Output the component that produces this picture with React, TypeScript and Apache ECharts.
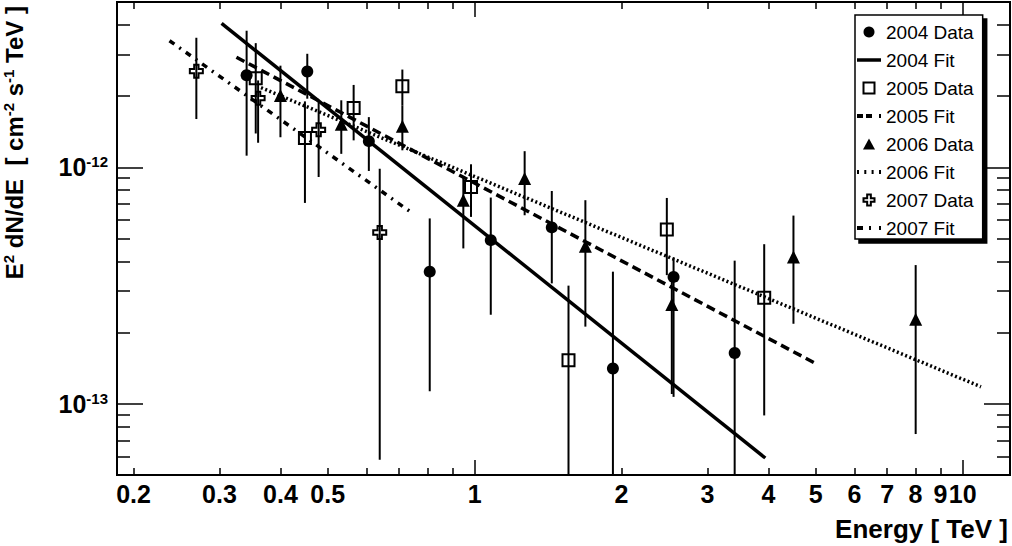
import React, { useEffect, useRef } from 'react';
import * as echarts from 'echarts';

// ---- axis ranges and ticks ----
const X_MIN = 0.185;
const X_MAX = 12.5;
const Y_MIN = 5e-14;
const Y_MAX = 5e-12;

const xMinorTicks = [0.2, 0.3, 0.4, 0.5, 0.6, 0.7, 0.8, 0.9, 2, 3, 4, 5, 6, 7, 8, 9];
const xMajorTicks = [1, 10];
const xLabelValues = [0.2, 0.3, 0.4, 0.5, 1, 2, 3, 4, 5, 6, 7, 8, 9, 10];
const xLabelTexts = ['0.2', '0.3', '0.4', '0.5', '1', '2', '3', '4', '5', '6', '7', '8', '9', '10'];

const yMinorTicks = [6e-14, 7e-14, 8e-14, 9e-14, 2e-13, 3e-13, 4e-13, 5e-13, 6e-13, 7e-13, 8e-13, 9e-13, 2e-12, 3e-12, 4e-12];
const yMajorTicks = [1e-13, 1e-12];

// ---- data: energy (TeV), E^2 dN/dE, lower end of error bar, upper end ----
const e2004 = [0.341, 0.454, 0.607, 0.809, 1.079, 1.439, 1.92, 2.556, 3.41];
const f2004 = [2.45e-12, 2.54e-12, 1.29e-12, 3.62e-13, 4.92e-13, 5.57e-13, 1.41e-13, 3.44e-13, 1.64e-13];
const lo2004 = [1.12e-12, 1.95e-12, 9.65e-13, 1.13e-13, 2.38e-13, 3.23e-13, 3e-14, 1.07e-13, 3e-14];
const hi2004 = [3.78e-12, 3.02e-12, 1.63e-12, 6.08e-13, 7.45e-13, 7.94e-13, 3.62e-13, 4.15e-13, 4.03e-13];

const e2005 = [0.356, 0.449, 0.565, 0.711, 0.983, 1.557, 2.476, 3.92];
const f2005 = [2.38e-12, 1.33e-12, 1.78e-12, 2.2e-12, 8.26e-13, 1.53e-13, 5.46e-13, 2.81e-13];
const lo2005 = [1.39e-12, 7.07e-13, 1.3e-12, 1.83e-12, 6.17e-13, 3e-14, 3.5e-13, 8.93e-14];
const hi2005 = [3.35e-12, 1.9e-12, 2.23e-12, 2.59e-12, 1.03e-12, 3.16e-13, 7.42e-13, 4.73e-13];

const e2006 = [0.4, 0.533, 0.711, 0.948, 1.266, 1.686, 2.535, 4.5, 8.01];
const f2006 = [2.01e-12, 1.52e-12, 1.49e-12, 7.26e-13, 8.96e-13, 4.64e-13, 2.63e-13, 4.18e-13, 2.28e-13];
const lo2006 = [1.34e-12, 1.14e-12, 1.18e-12, 4.54e-13, 6.27e-13, 2.12e-13, 1.1e-13, 2.18e-13, 7.45e-14];
const hi2006 = [2.69e-12, 1.92e-12, 1.83e-12, 9.1e-13, 1.17e-12, 7.26e-13, 3.6e-13, 6.25e-13, 3.86e-13];

const e2007 = [0.269, 0.36, 0.479, 0.639];
const f2007 = [2.55e-12, 1.96e-12, 1.44e-12, 5.3e-13];
const lo2007 = [1.6e-12, 1.27e-12, 9.1e-13, 5.8e-14];
const hi2007 = [3.53e-12, 2.33e-12, 1.92e-12, 9.87e-13];

// power-law fits: end points [E, E^2 dN/dE]
const fit2004 = [[0.303, 4.06e-12], [3.94, 5.9e-14]];
const fit2005 = [[0.325, 2.92e-12], [4.97, 1.49e-13]];
const fit2006 = [[0.365, 2.17e-12], [10.9, 1.18e-13]];
const fit2007 = [[0.237, 3.43e-12], [0.742, 6.44e-13]];

const FONT = '"Liberation Sans", Arial, Helvetica, sans-serif';
const CROSS = 'path://M4,0 L8,0 L8,4 L12,4 L12,8 L8,8 L8,12 L4,12 L4,8 L0,8 L0,4 L4,4 Z';
const SQUARE = 'path://M0,0 L12,0 L12,12 L0,12 Z';
const TRIANGLE = 'path://M6,0 L12,11 L0,11 Z';

// legend icons imitating the line styles
const ICON_SOLID = 'path://M0,0 H24 V3.5 H0 Z';
const ICON_DASH = 'path://M0,0 h6 v4 h-6 Z M9,0 h6 v4 h-6 Z M22,0 h2 v4 h-2 Z';
const ICON_DOT = 'path://M0,0 h2 v4 h-2 Z M7.3,0 h2 v4 h-2 Z M14.6,0 h2 v4 h-2 Z M22,0 h2 v4 h-2 Z';
const ICON_DASHDOT = 'path://M0,0 h6 v4 h-6 Z M12,0 h2 v4 h-2 Z M22,0 h2 v4 h-2 Z';

const pts = (e: number[], f: number[]) => e.map((v, i) => [v, f[i]]);
const errs = (e: number[], lo: number[], hi: number[]) => e.map((v, i) => [v, lo[i], hi[i]]);

function errorSeries(name: string, d: number[][]) {
  return {
    type: 'custom',
    name,
    xAxisIndex: 0,
    yAxisIndex: 0,
    z: 1,
    silent: true,
    encode: { x: 0, y: [1, 2] },
    data: d,
    renderItem: (params: any, api: any) => {
      const x = api.value(0);
      const lo = api.value(1);
      const hi = api.value(2);
      const a = api.coord([x, hi]);
      const b = api.coord([x, lo]);
      const cs = params.coordSys;
      const top = cs.y;
      const bottom = cs.y + cs.height;
      const y1 = Math.max(top, Math.min(bottom, a[1]));
      const y2 = Math.max(top, Math.min(bottom, b[1]));
      return {
        type: 'line',
        shape: { x1: a[0], y1, x2: a[0], y2 },
        style: { stroke: '#000', lineWidth: 2 },
      };
    },
  };
}

function xAxisDef(position: string, ticks: number[], len: number, withLabels: boolean) {
  return {
    type: 'log',
    logBase: 10,
    min: X_MIN,
    max: X_MAX,
    position,
    axisLine: { show: false },
    axisTick: { show: true, inside: true, length: len, customValues: ticks, lineStyle: { color: '#000', width: 1.5 } },
    axisLabel: withLabels
      ? {
          show: true,
          customValues: xLabelValues,
          margin: 6,
          fontSize: 25,
          fontWeight: 'bold',
          fontFamily: FONT,
          color: '#000',
          formatter: (v: number) => {
            const i = xLabelValues.findIndex((t) => Math.abs(t - v) / t < 1e-6);
            return i >= 0 ? xLabelTexts[i] : '';
          },
        }
      : { show: false },
    splitLine: { show: false },
    minorTick: { show: false },
    minorSplitLine: { show: false },
  };
}

function yAxisDef(position: string, ticks: number[], len: number, withLabels: boolean) {
  return {
    type: 'log',
    logBase: 10,
    min: Y_MIN,
    max: Y_MAX,
    position,
    axisLine: { show: false },
    axisTick: { show: true, inside: true, length: len, customValues: ticks, lineStyle: { color: '#000', width: 1.5 } },
    axisLabel: withLabels
      ? {
          show: true,
          customValues: yMajorTicks,
          margin: 9,
          formatter: (v: number) => '{b|10}{s|' + Math.round(Math.log10(v)) + '}',
          rich: {
            b: { fontSize: 25, fontWeight: 'bold', fontFamily: FONT, color: '#000', lineHeight: 26 },
            s: { fontSize: 15, fontWeight: 'bold', fontFamily: FONT, color: '#000', lineHeight: 14, verticalAlign: 'top' },
          },
        }
      : { show: false },
    splitLine: { show: false },
    minorTick: { show: false },
    minorSplitLine: { show: false },
  };
}

export default function App() {
  const ref = useRef<HTMLDivElement>(null);

  useEffect(() => {
    if (!ref.current) return;
    const chart = echarts.init(ref.current, null, { renderer: 'svg' });

    const xAxes: any[] = [
      xAxisDef('bottom', xMinorTicks, 7, true),
      xAxisDef('bottom', xMajorTicks, 15, false),
      xAxisDef('top', xMinorTicks, 7, false),
      xAxisDef('top', xMajorTicks, 15, false),
    ];
    xAxes[0].name = 'Energy [ TeV ]';
    xAxes[0].nameLocation = 'end';
    xAxes[0].nameGap = -2;
    xAxes[0].nameTextStyle = {
      fontSize: 26,
      fontWeight: 'bold',
      fontFamily: FONT,
      color: '#000',
      align: 'right',
      verticalAlign: 'top',
      padding: [41, 0, 0, 0],
    };

    const yAxes: any[] = [
      yAxisDef('left', yMinorTicks, 13, true),
      yAxisDef('left', yMajorTicks, 26, false),
      yAxisDef('right', yMinorTicks, 13, false),
      yAxisDef('right', yMajorTicks, 26, false),
    ];
    yAxes[0].name = '{m|E}{s|2}{m| dN/dE  [ cm}{s|-2}{m| s}{s|-1}{m| TeV ]}';
    yAxes[0].nameLocation = 'end';
    yAxes[0].nameRotate = 90;
    yAxes[0].nameGap = -4;
    yAxes[0].nameTextStyle = {
      align: 'right',
      verticalAlign: 'bottom',
      padding: [0, 0, 89, 0],
      rich: {
        m: { fontSize: 24, fontWeight: 'bold', fontFamily: FONT, color: '#000', lineHeight: 27 },
        s: { fontSize: 15, fontWeight: 'bold', fontFamily: FONT, color: '#000', lineHeight: 14, verticalAlign: 'top' },
      },
    };

    const markerBase = { xAxisIndex: 0, yAxisIndex: 0, type: 'scatter', z: 4, silent: true };
    const fitBase = { xAxisIndex: 0, yAxisIndex: 0, type: 'line', z: 3, silent: true, symbol: 'none', showSymbol: false };

    chart.setOption({
      animation: false,
      backgroundColor: '#fff',
      grid: { left: 117, right: 2, top: 2, bottom: 71, show: true, borderColor: '#000', borderWidth: 2, backgroundColor: 'transparent' },
      xAxis: xAxes,
      yAxis: yAxes,
      legend: {
        data: [
          { name: '2004 Data', icon: 'circle' },
          { name: '2004 Fit', icon: ICON_SOLID },
          { name: '2005 Data', icon: SQUARE },
          { name: '2005 Fit', icon: ICON_DASH },
          { name: '2006 Data', icon: TRIANGLE },
          { name: '2006 Fit', icon: ICON_DOT },
          { name: '2007 Data', icon: CROSS },
          { name: '2007 Fit', icon: ICON_DASHDOT },
        ],
        orient: 'vertical',
        left: 855,
        top: 15,
        itemWidth: 24,
        itemHeight: 11,
        itemGap: 8,
        padding: [7, 9, 1, 2],
        symbolKeepAspect: true,
        backgroundColor: '#fff',
        borderColor: '#000',
        borderWidth: 1.5,
        shadowColor: '#000',
        shadowBlur: 0,
        shadowOffsetX: 4,
        shadowOffsetY: 4,
        selectedMode: false,
        textStyle: { fontSize: 19, fontFamily: FONT, color: '#000', lineHeight: 20 },
      },
      series: [
        errorSeries('2004 err', errs(e2004, lo2004, hi2004)),
        errorSeries('2005 err', errs(e2005, lo2005, hi2005)),
        errorSeries('2006 err', errs(e2006, lo2006, hi2006)),
        errorSeries('2007 err', errs(e2007, lo2007, hi2007)),
        { ...markerBase, name: '2004 Data', symbol: 'circle', symbolSize: 12, itemStyle: { color: '#000', opacity: 1 }, data: pts(e2004, f2004) },
        { ...fitBase, name: '2004 Fit', lineStyle: { color: '#000', width: 3.5, type: 'solid' }, itemStyle: { color: '#000' }, data: fit2004 },
        {
          ...markerBase,
          name: '2005 Data',
          symbol: 'rect',
          symbolSize: 12,
          itemStyle: { color: 'rgba(255,255,255,0)', borderColor: '#000', borderWidth: 2, opacity: 1 },
          data: pts(e2005, f2005),
        },
        { ...fitBase, name: '2005 Fit', lineStyle: { color: '#000', width: 3.5, type: [9, 5] }, itemStyle: { color: '#000' }, data: fit2005 },
        { ...markerBase, name: '2006 Data', symbol: 'triangle', symbolSize: 13, itemStyle: { color: '#000', opacity: 1 }, data: pts(e2006, f2006) },
        { ...fitBase, name: '2006 Fit', lineStyle: { color: '#000', width: 3.5, type: [2, 2.5] }, itemStyle: { color: '#000' }, data: fit2006 },
        {
          ...markerBase,
          name: '2007 Data',
          symbol: CROSS,
          symbolSize: 13,
          itemStyle: { color: 'rgba(255,255,255,0)', borderColor: '#000', borderWidth: 2, opacity: 1 },
          data: pts(e2007, f2007),
        },
        { ...fitBase, name: '2007 Fit', lineStyle: { color: '#000', width: 3.5, type: [6, 6, 2, 6] }, itemStyle: { color: '#000' }, data: fit2007 },
      ],
    });

    return () => chart.dispose();
  }, []);

  return (
    <div
      ref={ref}
      style={{ position: 'fixed', left: 0, top: 0, width: 1012, height: 546, background: '#fff' }}
    />
  );
}
